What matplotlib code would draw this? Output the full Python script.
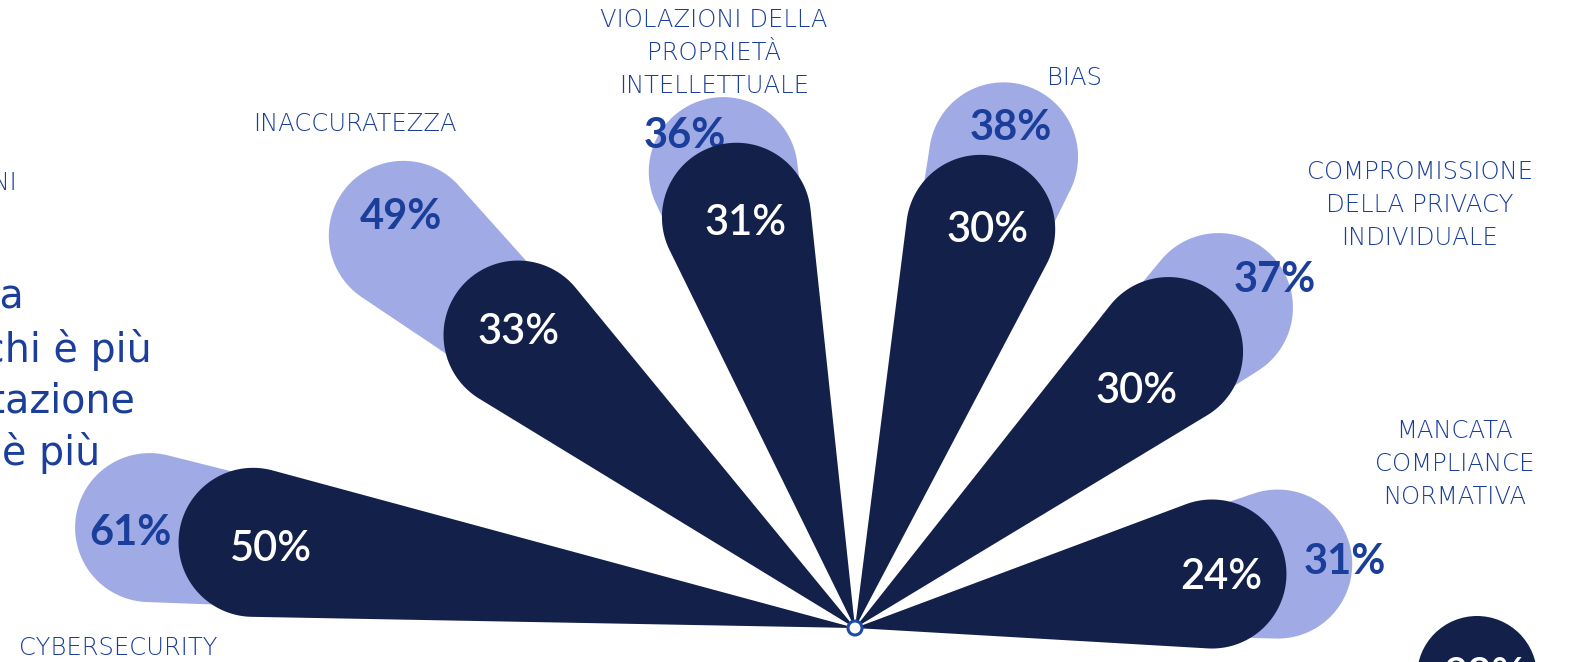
import numpy as np
import matplotlib.pyplot as plt
from matplotlib.patches import Polygon, Circle

# data
categories = ["CYBERSECURITY", "INACCURATEZZA",
              "VIOLAZIONI DELLA\nPROPRIETÀ\nINTELLETTUALE", "BIAS",
              "COMPROMISSIONE\nDELLA PRIVACY\nINDIVIDUALE",
              "MANCATA\nCOMPLIANCE\nNORMATIVA"]
light_values = [61, 49, 36, 38, 37, 31]
dark_values = [50, 33, 31, 30, 30, 24]
extra_value = 23  # circle cut off at the bottom right

# layout / style
ORIGIN = (855, 628)
HEAD_R = 74.5
angles = [171.9, 139.0, 106.1, 72.5, 41.4, 8.6]
light_offsets = [(-19, 5), (-2, -18), (-38, -36), (7, -29), (56, -28), (67, -2)]
dark_offsets = [(18, 7), (0, -3), (9, 6), (7, 1), (-32, 39), (9, 3)]
label_pos = [(118, 648), (355, 124), (714, 53), (1075, 78), (1420, 205), (1455, 464)]

DARK = '#12204a'
LIGHT = '#a0aae5'
BLUE = '#1a3e99'
NUM_FONT = 'Lato'
LBL_FONT = 'DejaVu Sans'


def value_to_dist(v):
    # distance of the head centre from the origin
    return 133 + 9.5 * v


def teardrop(ax, value, angle, color, zorder):
    d = value_to_dist(value)
    a = np.arcsin(HEAD_R / d)
    t = np.linspace(np.pi / 2 + a, -(np.pi / 2 + a), 160)
    lx = np.concatenate([[0], d + HEAD_R * np.cos(t)])
    ly = np.concatenate([[0], HEAD_R * np.sin(t)])
    th = np.radians(angle)
    x = ORIGIN[0] + lx * np.cos(th) - ly * np.sin(th)
    y = ORIGIN[1] - (lx * np.sin(th) + ly * np.cos(th))
    ax.add_patch(Polygon(np.column_stack([x, y]), closed=True,
                         fc=color, ec='none', zorder=zorder))
    return ORIGIN[0] + d * np.cos(th), ORIGIN[1] - d * np.sin(th)


fig = plt.figure(figsize=(15.7, 6.62), dpi=100)
ax = fig.add_axes([0, 0, 1, 1])
ax.set_xlim(0, 1570)
ax.set_ylim(662, 0)
ax.axis('off')

for i in range(len(categories)):
    cx, cy = teardrop(ax, light_values[i], angles[i], LIGHT, 1)
    ox, oy = light_offsets[i]
    ax.text(cx + ox, cy + oy, f"{light_values[i]}%", color=BLUE, fontsize=30,
            fontweight='bold', family=NUM_FONT, ha='center', va='center', zorder=3)

for i in range(len(categories)):
    cx, cy = teardrop(ax, dark_values[i], angles[i], DARK, 4)
    ox, oy = dark_offsets[i]
    ax.text(cx + ox, cy + oy, f"{dark_values[i]}%", color='white', fontsize=30,
            fontweight='semibold', family=NUM_FONT, ha='center', va='center', zorder=5)

for (lx, ly), cat in zip(label_pos, categories):
    ax.text(lx, ly, cat, color=BLUE, fontsize=17.5, family=LBL_FONT, fontweight='light',
            ha='center', va='center', linespacing=1.47, zorder=6)

# centre pin
ax.add_patch(Circle(ORIGIN, 7, fc='white', ec='#1d4aa8', lw=2.2, zorder=7))

# partially visible circle bottom right
ax.add_patch(Circle((1477, 676), 60, fc=DARK, ec='none', zorder=4))
ax.text(1484, 688, f"{extra_value}%", color='white', fontsize=30,
        fontweight='semibold', family=NUM_FONT, ha='center', va='baseline', zorder=5)

# cut-off text on the left edge
ax.text(17, 183, "ANNI", color=BLUE, fontsize=17.5, family=LBL_FONT, fontweight='light',
        ha='right', va='center')
left_lines = [("della", 25, 307), ("chi è più", 152, 362),
              ("sperimentazione", 136, 413), ("è più", 100, 465)]
for s, rx, by in left_lines:
    ax.text(rx, by, s, color=BLUE, fontsize=28.5, family=LBL_FONT,
            ha='right', va='baseline')

fig.savefig('out.png', dpi=100)
